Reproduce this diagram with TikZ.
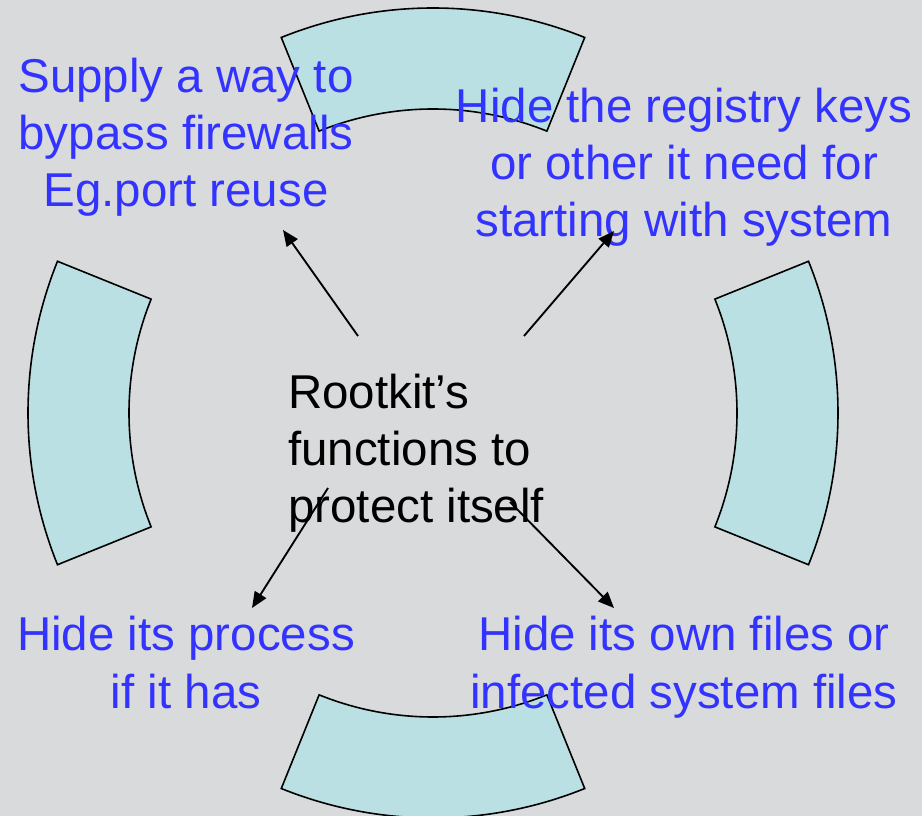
\documentclass[tikz,border=0pt]{standalone}
\usepackage{fontspec}
\setmainfont{Liberation Sans}
\usetikzlibrary{arrows.meta,calc}
\definecolor{bg}{RGB}{217,218,220}
\definecolor{segfill}{RGB}{187,224,227}
\definecolor{txtblue}{RGB}{51,51,255}
\tikzset{
  seg/.style={fill=segfill,draw=black,line width=1.2pt,line join=miter},
  label/.style={text=txtblue,align=center,inner sep=0pt,anchor=base,
    font=\fontsize{35.6}{43.1}\selectfont},
  ctext/.style={text=black,align=left,inner sep=0pt,anchor=base west,
    font=\fontsize{35.6}{43.1}\selectfont},
  arr/.style={draw=black,line width=1.4pt,-{Triangle[length=12pt,width=10pt]}}
}
\begin{document}
\begin{tikzpicture}[x=0.75pt,y=-0.75pt]
\fill[bg] (0,0) rectangle (922,816);
\useasboundingbox (0,0) rectangle (922,816);
\clip (0,0) rectangle (922,816);
\coordinate (C) at (433,413);
\def\Ro{303.75pt}
\def\Ri{228pt}
\foreach \a in {0,90,180,270}{
  \path[seg] ($(C)+(\a-22:\Ro)$) arc[start angle=\a-22,end angle=\a+22,radius=\Ro]
    -- ($(C)+(\a+22:\Ri)$) arc[start angle=\a+22,end angle=\a-22,radius=\Ri] -- cycle;
}
\node[label] (sup) at (186,207) {Supply a way to\\bypass firewalls\\Eg.port reuse};
\node[label] (reg) at (684,237) {Hide the registry keys\\or other it need for\\starting with system};
\node[label] (proc) at (186,708) {Hide its process\\if it has};
\node[label] (files) at (684,708) {Hide its own files or\\infected system files};
\node[ctext] (ctr) at (288,523) {Rootkit’s\\functions to\\protect itself};
\coordinate (s1) at (358,336);
\coordinate (t1) at (283,230);
\coordinate (s2) at (524,336);
\coordinate (t2) at (614,231);
\coordinate (s3) at (328,488);
\coordinate (t3) at (252,608);
\coordinate (s4) at (510,502);
\coordinate (t4) at (614,608);
\draw[arr] (s1) -- (t1);
\draw[arr] (s2) -- (t2);
\draw[arr] (s3) -- (t3);
\draw[arr] (s4) -- (t4);
\end{tikzpicture}
\end{document}
